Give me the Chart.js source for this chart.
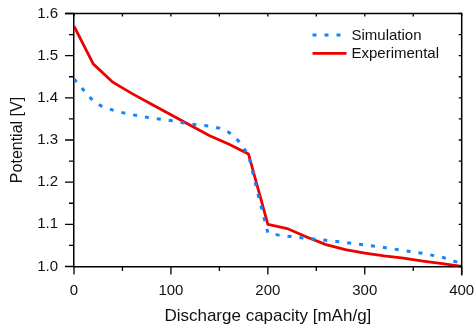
<!DOCTYPE html>
<html>
<head>
<meta charset="utf-8">
<script src="https://cdn.jsdelivr.net/npm/chart.js@4.4.1/dist/chart.umd.min.js"></script>
<style>
  html, body { margin: 0; padding: 0; background: #fff; }
  #wrap { width: 474px; height: 329px; }
</style>
</head>
<body>
<div id="wrap"><canvas id="potentialChart" width="474" height="329"></canvas></div>
<script>
// values
const simCapacity = [0, 10, 20, 30, 40, 50, 60, 70, 80, 90, 100, 110, 120, 130, 140, 150, 160, 170, 180, 190, 200, 210, 220, 240, 260, 280, 300, 320, 340, 360, 380, 390, 400];
const simPotential = [1.445, 1.418, 1.392, 1.378, 1.371, 1.365, 1.36, 1.356, 1.352, 1.349, 1.346, 1.342, 1.338, 1.335, 1.333, 1.328, 1.318, 1.297, 1.265, 1.17, 1.08, 1.075, 1.072, 1.067, 1.062, 1.057, 1.051, 1.045, 1.038, 1.031, 1.022, 1.014, 1.007];

const expCapacity = [0, 20, 40, 60, 80, 100, 120, 140, 160, 180, 200, 220, 240, 260, 280, 300, 320, 340, 360, 380, 400];
const expPotential = [1.57, 1.48, 1.437, 1.41, 1.385, 1.36, 1.335, 1.31, 1.29, 1.267, 1.10, 1.09, 1.07, 1.052, 1.04, 1.032, 1.025, 1.02, 1.013, 1.007, 1.0];

const seriesLabels = ["Simulation", "Experimental"];
const xTitle = "Discharge capacity [mAh/g]";
const yTitle = "Potential [V]";

const toPoints = (xs, ys) => xs.map((x, i) => ({ x: x, y: ys[i] }));

// minor/major ticks + top/right frame
const frameTicks = {
  id: "frameTicks",
  afterDatasetsDraw(chart) {
    const { ctx, chartArea: a, scales } = chart;
    const xs = scales.x, ys = scales.y;
    ctx.save();
    ctx.strokeStyle = "#000";
    ctx.lineWidth = 1.5;
    ctx.beginPath();
    ctx.moveTo(a.left - 9, a.top);
    ctx.lineTo(a.right, a.top);
    ctx.lineTo(a.right, a.bottom + 9);
    ctx.stroke();

    ctx.lineWidth = 1.3;
    ctx.beginPath();
    for (let v = 0; v <= 400; v += 50) {
      const px = xs.getPixelForValue(v);
      const len = v % 100 === 0 ? 8 : 4.5;
      ctx.moveTo(px, a.bottom);
      ctx.lineTo(px, a.bottom + len);
      ctx.moveTo(px, a.top);
      ctx.lineTo(px, a.top + 3);
    }
    for (let k = 0; k <= 12; k++) {
      const v = 1.0 + k * 0.05;
      const py = ys.getPixelForValue(v);
      const len = k % 2 === 0 ? 9 : 5;
      ctx.moveTo(a.left, py);
      ctx.lineTo(a.left - len, py);
      ctx.moveTo(a.right, py);
      ctx.lineTo(a.right - 3, py);
    }
    ctx.stroke();
    ctx.restore();
  }
};

// legend inside the plot, top right
const innerLegend = {
  id: "innerLegend",
  afterDraw(chart) {
    const { ctx } = chart;
    const rows = [35, 53.4];
    ctx.save();
    chart.data.datasets.forEach((ds, i) => {
      const y = rows[i];
      ctx.strokeStyle = ds.borderColor;
      ctx.lineWidth = ds.borderWidth;
      ctx.setLineDash(ds.borderDash || []);
      ctx.beginPath();
      ctx.moveTo(312.5, y);
      ctx.lineTo(346.5, y);
      ctx.stroke();
      ctx.setLineDash([]);
      ctx.fillStyle = "#111";
      ctx.font = "15px 'Liberation Sans', Arial, sans-serif";
      ctx.textBaseline = "middle";
      ctx.textAlign = "left";
      ctx.fillText(ds.label, 351.5, y + 0.5);
    });
    ctx.restore();
  }
};

const fontFamily = "'Liberation Sans', Arial, sans-serif";

// fixed box sizes, no extra label overflow padding
const fixBox = (size) => (scale) => {
  if (scale.isHorizontal()) scale.height = size; else scale.width = size;
  scale.paddingTop = 0;
  scale.paddingBottom = 0;
  scale.paddingLeft = 0;
  scale.paddingRight = 0;
};

new Chart(document.getElementById("potentialChart"), {
  type: "line",
  data: {
    datasets: [
      {
        label: seriesLabels[0],
        data: toPoints(simCapacity, simPotential),
        borderColor: "rgb(20, 132, 255)",
        borderWidth: 3,
        borderDash: [4, 8],
        pointRadius: 0,
        tension: 0,
        fill: false,
      },
      {
        label: seriesLabels[1],
        data: toPoints(expCapacity, expPotential),
        borderColor: "rgb(238, 0, 0)",
        borderWidth: 2.8,
        pointRadius: 0,
        tension: 0,
        fill: false,
      },
    ],
  },
  options: {
    responsive: false,
    animation: false,
    layout: { padding: { left: 0, top: 13.5, right: 12.3, bottom: 0 } },
    plugins: { legend: { display: false }, tooltip: { enabled: false } },
    scales: {
      x: {
        type: "linear",
        min: 0,
        max: 400,
        afterFit: fixBox(62.5),
        grid: { drawOnChartArea: false, drawTicks: false },
        border: { display: true, color: "#000", width: 1.5 },
        ticks: { stepSize: 100, padding: 15, color: "#111", font: { family: fontFamily, size: 15 } },
        title: { display: true, text: xTitle, color: "#111", padding: { top: 0, bottom: 2 }, font: { family: fontFamily, size: 17 } },
      },
      y: {
        min: 1.0,
        max: 1.6,
        afterFit: fixBox(74),
        grid: { drawOnChartArea: false, drawTicks: false },
        border: { display: true, color: "#000", width: 1.5 },
        ticks: {
          stepSize: 0.1,
          padding: 16,
          color: "#111",
          font: { family: fontFamily, size: 15 },
          callback: (v) => v.toFixed(1),
        },
        title: { display: true, text: yTitle, color: "#111", padding: { top: 8, bottom: 0 }, font: { family: fontFamily, size: 16 } },
      },
    },
  },
  plugins: [frameTicks, innerLegend],
});
</script>
</body>
</html>
